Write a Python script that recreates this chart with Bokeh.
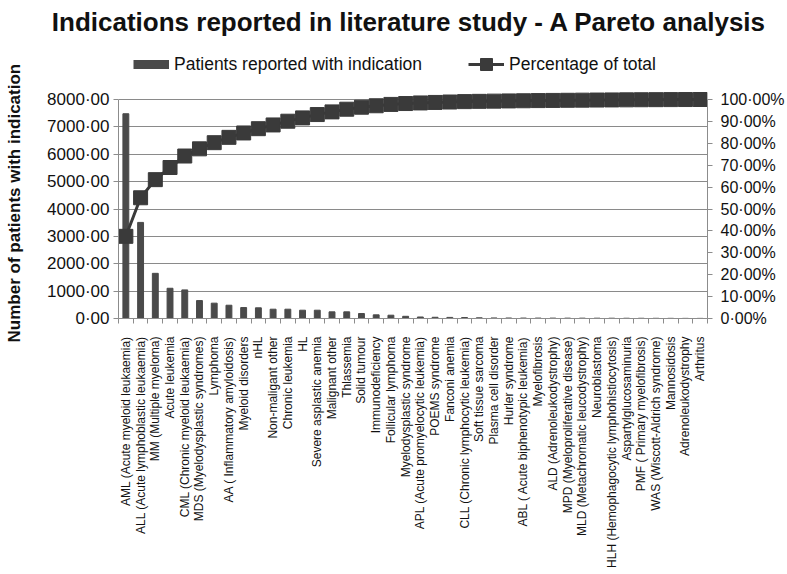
import numpy as np
from bokeh.plotting import figure
from bokeh.models import Range1d, LinearAxis, FixedTicker, Legend, LegendItem, ColumnDataSource
from bokeh.embed import file_html
from bokeh.resources import INLINE

categories = [
    "AML (Acute myeloid leukaemia)",
    "ALL (Acute lymphoblastic leukaemia)",
    "MM (Multiple myeloma)",
    "Acute leukemia",
    "CML (Chronic myeloid leukaemia)",
    "MDS (Myelodysplastic syndromes)",
    "Lymphoma",
    "AA ( Inflammatory amyloidosis)",
    "Myeloid disorders",
    "nHL",
    "Non-maligant other",
    "Chronic leukemia",
    "HL",
    "Severe asplastic anemia",
    "Malignant other",
    "Thlassemia",
    "Solid tumour",
    "Immunodeficiency",
    "Follicular lymphoma",
    "Myelodysplastic syndrome",
    "APL (Acute promyelocytic leukemia)",
    "POEMS syndrome",
    "Fanconi anemia",
    "CLL (Chronic lymphocytic leukemia)",
    "Soft tissue sarcoma",
    "Plasma cell disorder",
    "Hurler syndrome",
    "ABL ( Acute biphenotypic leukemia)",
    "Myelofibrosis",
    "ALD (Adrenoleukodystrophy)",
    "MPD (Myeloproliferative disease)",
    "MLD (Metachromatic leucodystrophy)",
    "Neuroblastoma",
    "HLH (Hemophagocytic lymphohistiocytosis)",
    "Aspartylglucosaminuria",
    "PMF ( Primary myelofibrosis)",
    "WAS (Wiscott-Aldrich syndrome)",
    "Mannosidosis",
    "Adrenoleukodystrophy",
    "Arthritus",
]

patients = [7480, 3510, 1650, 1105, 1045, 655, 560, 485, 400, 390,
            340, 340, 303, 303, 243, 243, 182, 133, 121, 80,
            55, 45, 40, 35, 25, 20, 18, 16, 15, 14,
            13, 12, 11, 10, 9, 8, 7, 6, 5, 4]

left_ticks = [0, 1000, 2000, 3000, 4000, 5000, 6000, 7000, 8000]
left_tick_labels = ["0·00", "1000·00", "2000·00", "3000·00", "4000·00",
                    "5000·00", "6000·00", "7000·00", "8000·00"]
right_ticks = [0, 10, 20, 30, 40, 50, 60, 70, 80, 90, 100]
right_tick_labels = ["0·00%", "10·00%", "20·00%", "30·00%", "40·00%", "50·00%",
                     "60·00%", "70·00%", "80·00%", "90·00%", "100·00%"]

title_text = "Indications reported in literature study - A  Pareto analysis"
y_label = "Number of patients with indication"
bar_label = "Patients reported with indication"
line_label = "Percentage of total"

x = list(range(1, len(categories) + 1))
pct = list(np.cumsum(patients) / np.sum(patients) * 100.0)

src = ColumnDataSource(dict(x=x, patients=patients, pct=pct))

FONT = "Liberation Sans"
DARK = "#4a4a4a"
LINE = "#3a3a3a"
AXIS = "#8c8c8c"
TXT = "#111111"

# layout (pixels in the canvas)
W, H = 787, 574
FRAME_TOP = 40          # frame starts high so the legend can sit inside it
AXIS_TOP = 99           # where the 8000 / 100% gridline sits
AXIS_BOTTOM = 318
LEFT_MAX = left_ticks[-1]
RIGHT_MAX = right_ticks[-1]
ymax = LEFT_MAX * (AXIS_BOTTOM - FRAME_TOP) / (AXIS_BOTTOM - AXIS_TOP)
ymax_pct = RIGHT_MAX * (AXIS_BOTTOM - FRAME_TOP) / (AXIS_BOTTOM - AXIS_TOP)

p = figure(width=W, height=H,
           x_range=Range1d(0.5, len(categories) + 0.5),
           y_range=Range1d(0, ymax),
           output_backend="svg", toolbar_location=None,
           min_border_left=118, min_border_right=W - 709,
           min_border_top=FRAME_TOP, min_border_bottom=H - AXIS_BOTTOM,
           title=title_text)
p.extra_y_ranges = {"pct": Range1d(0, ymax_pct)}

p.title.text_font = FONT
p.title.text_font_size = "26px"
p.title.text_font_style = "bold"
p.title.text_color = TXT
p.title.align = "center"
p.title.standoff = 8

p.outline_line_color = None
p.background_fill_color = "white"
p.border_fill_color = "white"

# bars
bars = p.vbar(x="x", top="patients", width=0.4, source=src,
              fill_color=DARK, line_color=DARK)
# cumulative percentage (Pareto line)
ln = p.line(x="x", y="pct", source=src, y_range_name="pct",
            line_color=LINE, line_width=3)
sq = p.scatter(x="x", y="pct", source=src, y_range_name="pct", marker="square",
               size=14, fill_color=LINE, line_color=LINE)
# legend swatch proxy for the bars (thick flat stroke, nothing plotted)
bar_swatch = p.line(x=[np.nan], y=[np.nan], line_color=DARK, line_width=9, line_cap="butt")

# grid
p.xgrid.visible = False
p.ygrid.ticker = FixedTicker(ticks=left_ticks)
p.ygrid.grid_line_color = "#8a8a8a"
p.ygrid.grid_line_width = 1

# x axis
xa = p.xaxis[0]
xa.ticker = FixedTicker(ticks=x, minor_ticks=[i + 0.5 for i in range(0, len(categories) + 1)])
xa.major_label_overrides = {i: c for i, c in zip(x, categories)}
xa.major_label_orientation = np.pi / 2
xa.major_label_text_font = FONT
xa.major_label_text_font_size = "12px"
xa.major_label_text_color = TXT
xa.major_label_standoff = 13
xa.major_tick_out = 0
xa.major_tick_in = 0
xa.minor_tick_out = 5
xa.minor_tick_in = 0
xa.minor_tick_line_color = AXIS
xa.axis_line_color = AXIS

# left axis
ya = p.yaxis[0]
ya.ticker = FixedTicker(ticks=left_ticks)
ya.bounds = (0, LEFT_MAX)
ya.major_label_overrides = {t: l for t, l in zip(left_ticks, left_tick_labels)}
ya.major_label_text_font = FONT
ya.major_label_text_font_size = "17px"
ya.major_label_text_color = TXT
ya.major_label_standoff = 4
ya.major_tick_out = 5
ya.major_tick_in = 0
ya.minor_tick_out = 0
ya.minor_tick_in = 0
ya.major_tick_line_color = AXIS
ya.axis_line_color = AXIS
# trailing no-break spaces centre the rotated label on the 0-8000 span
ya.axis_label = y_label + "\u00a0" * 10
ya.axis_label_text_font = FONT
ya.axis_label_text_font_size = "17px"
ya.axis_label_text_font_style = "bold"
ya.axis_label_text_color = TXT
ya.axis_label_standoff = 20

# right axis
ra = LinearAxis(y_range_name="pct", ticker=FixedTicker(ticks=right_ticks), bounds=(0, RIGHT_MAX))
ra.major_label_overrides = {t: l for t, l in zip(right_ticks, right_tick_labels)}
ra.major_label_text_font = FONT
ra.major_label_text_font_size = "16px"
ra.major_label_text_color = TXT
ra.major_tick_out = 5
ra.major_tick_in = 0
ra.minor_tick_out = 0
ra.minor_tick_in = 0
ra.major_tick_line_color = AXIS
ra.axis_line_color = AXIS
ra.major_label_standoff = 8
p.add_layout(ra, "right")

legend = Legend(items=[
    LegendItem(label=bar_label, renderers=[bar_swatch]),
    LegendItem(label=line_label, renderers=[ln, sq]),
], orientation="horizontal", location=(15, AXIS_BOTTOM - 64 - 15))
legend.border_line_color = None
legend.background_fill_alpha = 0
legend.label_text_font = FONT
legend.label_text_font_size = "17.5px"
legend.label_text_color = TXT
legend.glyph_width = 36
legend.glyph_height = 30
legend.spacing = 46
legend.padding = 0
legend.margin = 0
legend.label_standoff = 5
p.add_layout(legend)

open("out.html", "w").write(file_html(p, INLINE))
